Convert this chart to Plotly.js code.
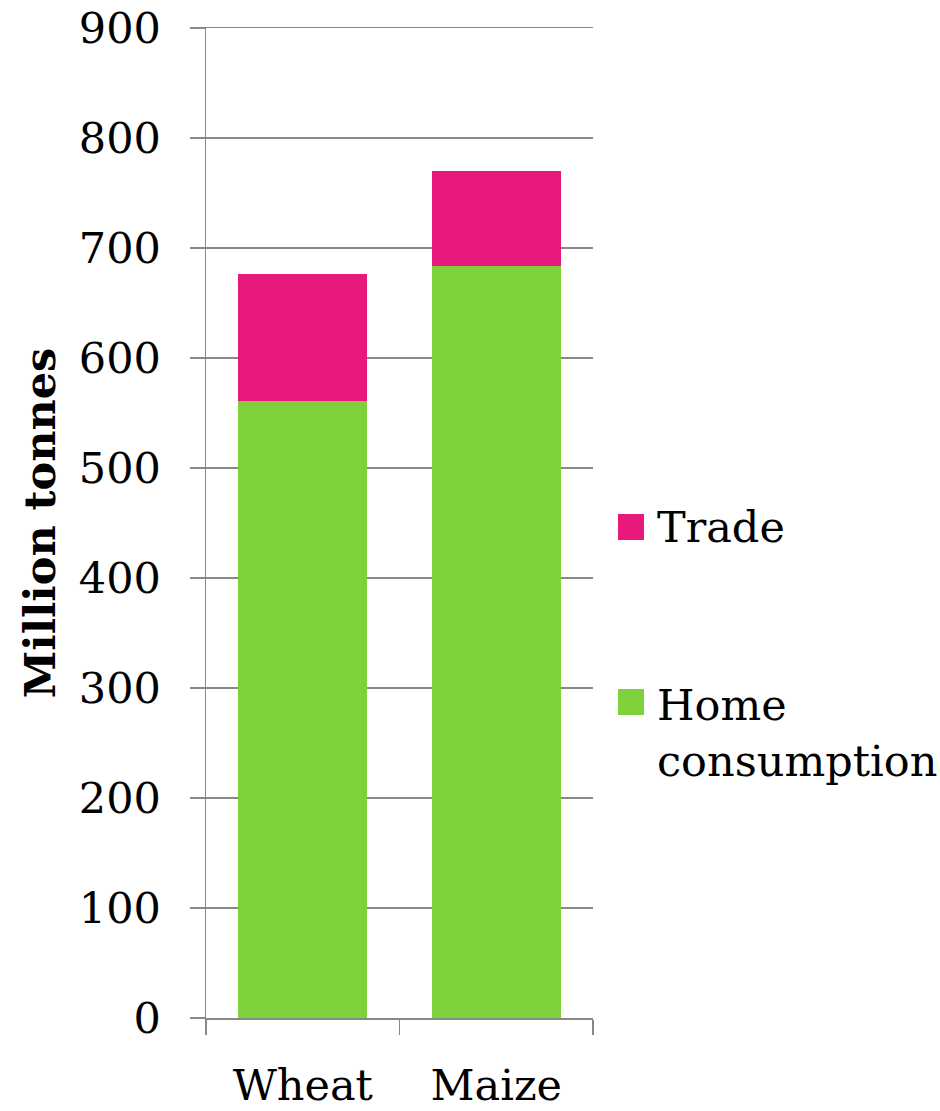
<!DOCTYPE html>
<html><head><meta charset="utf-8">
<script src="https://cdn.plot.ly/plotly-3.0.1.min.js"></script>
<style>html,body{margin:0;padding:0;background:#fff}</style>
</head><body>
<div id="chart" style="width:940px;height:1111px"></div>
<script>
const categories = ["Wheat", "Maize"];
const homeConsumption = [561, 684];
const trade = [115, 86];
const yTickVals = [0,100,200,300,400,500,600,700,800,900];
const seriesNames = ["Trade", "Home<br>consumption"];
const seriesColors = ["#E8197D", "#7FD13B"];

const fontFam = "DejaVu Serif, serif";
const grid = "#888888";

const data = [
  {type:"bar", name:seriesNames[1], x:categories, y:homeConsumption,
   marker:{color:seriesColors[1]}, showlegend:false},
  {type:"bar", name:seriesNames[0], x:categories, y:trade,
   marker:{color:seriesColors[0]}, showlegend:false}
];

// custom legend (squares + labels) in paper coordinates
const px = v => (v - 206) / 387;
const py = v => (1018 - v) / 990;
const shapes = [
  {type:"rect", xref:"paper", yref:"paper", x0:px(618), x1:px(644), y0:py(540), y1:py(514),
   fillcolor:seriesColors[0], line:{width:0}},
  {type:"rect", xref:"paper", yref:"paper", x0:px(618), x1:px(644), y0:py(715), y1:py(689),
   fillcolor:seriesColors[1], line:{width:0}}
];
const annotations = [
  {xref:"paper", yref:"paper", x:px(655), y:py(527), xanchor:"left", yanchor:"middle",
   text:seriesNames[0], showarrow:false, align:"left", font:{size:43}},
  {xref:"paper", yref:"paper", x:px(655), y:py(733), xanchor:"left", yanchor:"middle",
   text:seriesNames[1], showarrow:false, align:"left", font:{size:43}}
];

const layout = {
  width:940, height:1111,
  margin:{l:206, r:347, t:28, b:93},
  barmode:"stack", bargap:0.333,
  paper_bgcolor:"#fff", plot_bgcolor:"#fff",
  font:{family:fontFam, size:42, color:"#000"},
  xaxis:{showline:true, mirror:true, linecolor:grid, linewidth:1.5, ticks:"outside", tickson:"boundaries",
         ticklen:15, tickcolor:grid, tickwidth:1.5, showgrid:false, tickfont:{size:43},
         ticklabelstandoff:29},
  yaxis:{range:[0,900], tickvals:yTickVals, showgrid:true, gridcolor:grid, gridwidth:1.5,
         showline:true, linecolor:grid, linewidth:1.5, ticks:"outside", ticklen:15,
         tickcolor:grid, tickwidth:1.5, zeroline:false, ticklabelstandoff:20,
         tickfont:{size:43},
         title:{text:"<b>Million tonnes</b>", font:{size:43}, standoff:10}},
  shapes:shapes, annotations:annotations,
  showlegend:false
};
Plotly.newPlot("chart", data, layout, {displayModeBar:false, staticPlot:true});
</script>
</body></html>
